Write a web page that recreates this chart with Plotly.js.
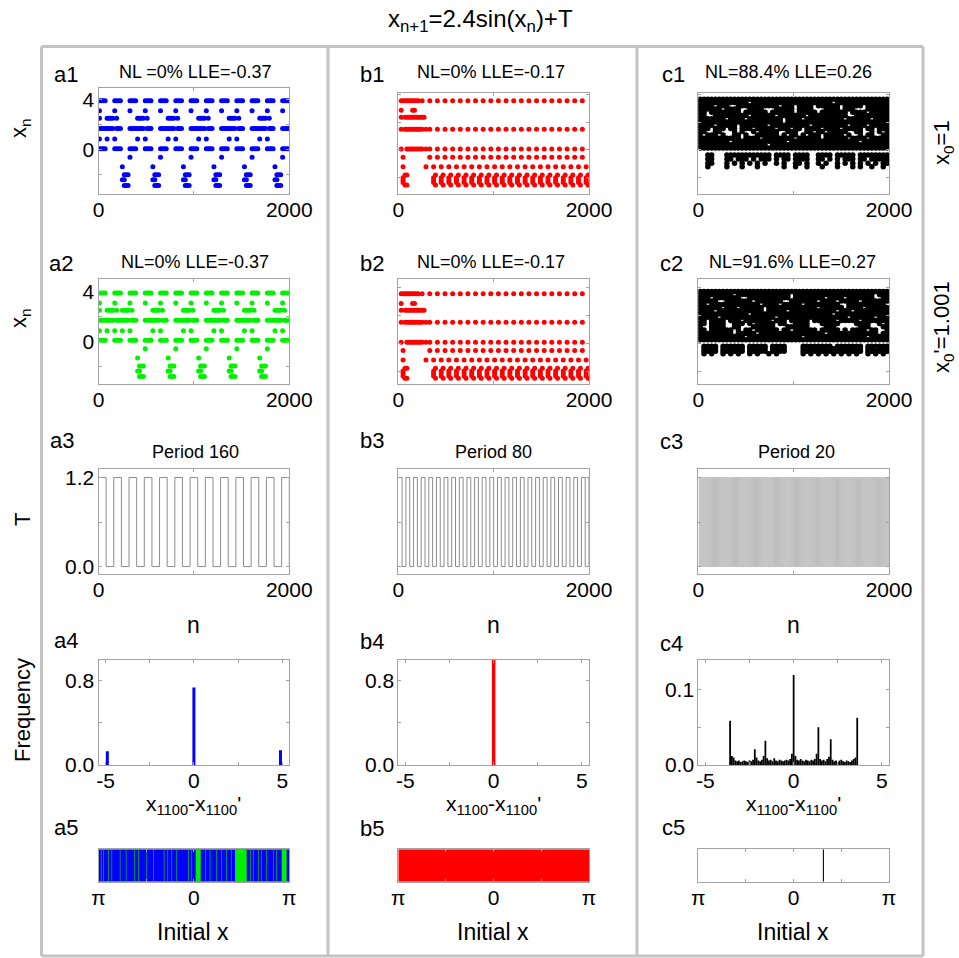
<!DOCTYPE html>
<html><head><meta charset="utf-8">
<script src="https://cdn.plot.ly/plotly-3.0.1.min.js"></script>
<style>html,body{margin:0;padding:0;background:#fff}#chart{width:959px;height:958px}</style>
</head><body><div id="chart"></div>
<script>
// ================= DATA =================
// Scatter panels are stored as occupancy maps: one string per level, one char per column of n.
// a1 / a2 : 100 columns of 20 n each
const a1Levels = [3.9, 3.1, 2.5, 1.7, 0.85, 0.08, -0.6, -1.35, -2.0, -2.4, -2.85];
const a1Rows = [
  "####....####...." + "####....####...." + "####....####...." + "####....####...." + "####....####...." + "####....####...." + "####",
  "#.......#......." + "#.......#......." + "#.......#......." + "#.......#......." + "#.......#......." + "#.......#......." + "#...",
  "#...####.#......" + "....####.#......" + "....####.#......" + "....####.#......" + "....####.#......" + "....####.#......" + "....",
  "########.###...." + "########.###...." + "########.###...." + "########.###...." + "########.###...." + "########.###...." + "####",
  "#...#...#......." + "....#...#......." + "....#...#......." + "....#...#......." + "....#...#......." + "....#...#......." + "....",
  "####....####...." + "####....####...." + "####....####...." + "####....####...." + "####....####...." + "####....####...." + "####",
  "................" + "#..............." + "#..............." + "#..............." + "#..............." + "#..............." + "#...",
  "............#..." + "............#..." + "............#..." + "............#..." + "............#..." + "............#..." + "....",
  ".............###" + ".............###" + ".............###" + ".............###" + ".............###" + ".............###" + "....",
  "............##.." + "............##.." + "............##.." + "............##.." + "............##.." + "............##.." + "....",
  ".............###" + ".............###" + ".............###" + ".............###" + ".............###" + ".............###" + "...."
];
const a2Levels = [3.9, 3.1, 2.5, 1.7, 0.85, 0.08, -0.6, -1.35, -2.0, -2.4, -2.85];
const a2Rows = [
  "####....####...." + "####....####...." + "####....####...." + "####....####...." + "####....####...." + "####....####...." + "####",
  "#.......#......." + "#.......#......." + "#.......#......." + "#.......#......." + "#.......#......." + "#.......#......." + "#...",
  "#...####.#..####" + ".#..........####" + ".#..........####" + ".#..........####" + ".#..........####" + ".#..........####" + ".#..",
  "########.#######" + ".###....########" + ".###....########" + ".###....########" + ".###....########" + ".###....########" + ".###",
  "#...#...#...#..." + "#...........#..." + "#...........#..." + "#...........#..." + "#...........#..." + "#...........#..." + "#...",
  "####....####...." + "####....####...." + "####....####...." + "####....####...." + "####....####...." + "####....####...." + "####",
  "................" + "........#......." + "........#......." + "........#......." + "........#......." + "........#......." + "....",
  "................" + "....#..........." + "....#..........." + "....#..........." + "....#..........." + "....#..........." + "....",
  "................" + ".....###........" + ".....###........" + ".....###........" + ".....###........" + ".....###........" + "....",
  "................" + "....##.........." + "....##.........." + "....##.........." + "....##.........." + "....##.........." + "....",
  "................" + ".....###........" + ".....###........" + ".....###........" + ".....###........" + ".....###........" + "...."
];
// b1 / b2 : 100 columns of 20 n each
const b1Levels = [3.55, 2.85, 2.35, 1.49, 0.07, -0.53, -1.2, -1.8, -2.0, -2.18, -2.35, -2.52];
const b1Rows = [
  ".##########.#..." + "#...#...#...#...#...#...#..." + "#...#...#...#...#...#...#..." + "#...#...#...#...#...#...#...",
  ".#.....##......." + "............................" + "............................" + "............................",
  ".#.###########.." + "............................" + "............................" + "............................",
  ".#.##########.#." + "#...#...#...#...#...#...#..." + "#...#...#...#...#...#...#..." + "#...#...#...#...#...#...#...",
  ".#..#########.#." + "#...#...#...#...#...#...#..." + "#...#...#...#...#...#...#..." + "#...#...#...#...#...#...#...",
  "..#............." + "#...#...#...#...#...#...#..." + "#...#...#...#...#...#...#..." + "#...#...#...#...#...#...#...",
  "..#...........#." + "..#...#...#...#...#...#...#." + "..#...#...#...#...#...#...#." + "..#...#...#...#...#...#...#.",
  "...##..........." + "...#...#...#...#...#...#...#" + "...#...#...#...#...#...#...#" + "...#...#...#...#...#...#...#",
  "..#............." + "..#...#...#...#...#...#...#." + "..#...#...#...#...#...#...#." + "..#...#...#...#...#...#...#.",
  "..#............." + "..#...#...#...#...#...#...#." + "..#...#...#...#...#...#...#." + "..#...#...#...#...#...#...#.",
  "..#............." + "..#...#...#...#...#...#...#." + "..#...#...#...#...#...#...#." + "..#...#...#...#...#...#...#.",
  "...##..........." + "...#...#...#...#...#...#...#" + "...#...#...#...#...#...#...#" + "...#...#...#...#...#...#...#"
];
const b2Levels = [3.55, 2.85, 2.35, 1.49, 0.07, -0.53, -1.2, -1.8, -2.0, -2.18, -2.35, -2.52];
const b2Rows = [
  ".##########.#..." + "#...#...#...#...#...#...#..." + "#...#...#...#...#...#...#..." + "#...#...#...#...#...#...#...",
  ".#.....##......." + "............................" + "............................" + "............................",
  ".#.###########.." + "............................" + "............................" + "............................",
  ".#.##########.#." + "#...#...#...#...#...#...#..." + "#...#...#...#...#...#...#..." + "#...#...#...#...#...#...#...",
  ".#..#########.#." + "#...#...#...#...#...#...#..." + "#...#...#...#...#...#...#..." + "#...#...#...#...#...#...#...",
  "..#............." + "#...#...#...#...#...#...#..." + "#...#...#...#...#...#...#..." + "#...#...#...#...#...#...#...",
  "..#...........#." + "..#...#...#...#...#...#...#." + "..#...#...#...#...#...#...#." + "..#...#...#...#...#...#...#.",
  "...##..........." + "...#...#...#...#...#...#...#" + "...#...#...#...#...#...#...#" + "...#...#...#...#...#...#...#",
  "..#............." + "..#...#...#...#...#...#...#." + "..#...#...#...#...#...#...#." + "..#...#...#...#...#...#...#.",
  "..#............." + "..#...#...#...#...#...#...#." + "..#...#...#...#...#...#...#." + "..#...#...#...#...#...#...#.",
  "..#............." + "..#...#...#...#...#...#...#." + "..#...#...#...#...#...#...#." + "..#...#...#...#...#...#...#.",
  "...##..........." + "...#...#...#...#...#...#...#" + "...#...#...#...#...#...#...#" + "...#...#...#...#...#...#...#"
];
// c1 / c2 : 50 columns of 40 n each
const c1Levels = [3.65, 3.42, 3.18, 2.95, 2.72, 2.48, 2.25, 2.02, 1.78, 1.55, 1.32, 1.08, 0.85, 0.62, 0.38, 0.15, -0.36, -0.65, -0.96, -1.2];
const c1Rows = [
  "##########" + "##########" + "##########" + "##########" + "##########",
  "##########" + "###.######" + "##########" + "#####.####" + "##########",
  "####.###.." + "##########" + "#.###.####" + ".######.##" + "###.######",
  "######.###" + "#..####..." + "#####.####" + "...####.##" + "#...######",
  "##.#######" + "#.######.#" + "#####.####" + "#.#######." + "####.#####",
  "##..######" + "###.######" + ".#######.#" + "#########." + ".#########",
  "#######.##" + "##.#######" + "##.####.##" + "########.#" + "#####.####",
  "##########" + "##########" + "##.#######" + "##########" + "##########",
  "####.#####" + ".#######.#" + "#########." + "#########." + "####.#####",
  "###.###.##" + ".###.#####" + ".###.##.##" + "##.####.##" + "###.##.###",
  "##..##...#" + ".#..#.####" + "#..###..##" + ".##.#####." + ".##..#.#.#",
  "#.###.#..#" + "#.#..#####" + "#.#.##.#.#" + "##.#####.#" + "..#.##..##",
  "##########" + "#.####.###" + "#####.####" + "##.######." + "####.#####",
  "########.#" + "##########" + "###.######" + "##########" + "##.#######",
  "##########" + "########.#" + "##########" + "##########" + "##########",
  "##########" + "##########" + "##########" + "##########" + "##########",
  "..##...###" + "#########." + "####.####." + ".####.####" + "#.########",
  "..##...##." + "###.#.###." + "#.##.####." + ".##.#.#.##" + "#.##.#####",
  "..##...#.#" + ".#.#.#.#.." + "#.#..##.#." + ".#.#..#.#." + "#.#.#.#.##",
  "..#....#.." + ".#...#...." + "..#..#..#." + "..#...#..." + "#.#..#..#."
];
const c2Levels = [3.71, 3.48, 3.25, 3.02, 2.78, 2.55, 2.32, 2.09, 1.86, 1.63, 1.40, 1.17, 0.94, 0.70, 0.47, 0.24, -0.22, -0.4, -0.58, -0.76];
const c2Rows = [
  "##########" + "##########" + "##########" + "##########" + "##########",
  "#########." + "##########" + "####.#####" + "##########" + "######.###",
  "###.######" + "#..#######" + "####.#####" + "###.####.#" + "######..##",
  "#####..###" + "####.#####" + "##..######" + "#.####.###" + "##.#######",
  "##.#######" + "######.###" + "#.#####.##" + "#######..#" + "#########.",
  "######.###" + ".######.##" + "##########" + "#.######.#" + "###.######",
  "####.#####" + "#######.##" + "###.######" + "######.###" + ".#########",
  "##########" + "###.######" + "##########" + "#####.####" + "##########",
  "#####.####" + "##########" + ".#########" + "#########." + "######.###",
  "##.####.##" + "#.#######." + "###.#####." + "######.###" + "##.#######",
  "##.####..#" + "##.#.#####" + ".##..####." + "..#####..." + ".####..#.#",
  "#..####..#" + "#...######" + "...######." + "...###...." + "..###...##",
  "##.######." + "#.##.#####" + "#.##.#####" + "#.#####.#." + "####.##..#",
  "#########." + "#####.####" + "##########" + "###.######" + "#######.##",
  "##########" + "##.#######" + "#######.##" + "##########" + "####.#####",
  "##########" + "##########" + "##########" + "##########" + "##########",
  ".####.####" + "##.#####.#" + "###....###" + "#####.####" + "###.######",
  ".#.##.#.##" + "##.##.##.#" + "#.#....#.#" + "####.#.###" + "#.#.##.###",
  ".####.####" + "##.#####.#" + "###....###" + "#####.####" + "###.######",
  ".#.#..#.#." + "#..#.#..#." + "#......#.#" + ".#.#.#.#.#" + ".#..#.#.#."
];

// Row 3: driving term T (step changes)
const a3N = [0,80,160,240,320,400,480,560,640,720,800,880,960,1040,1120,1200,1280,1360,1440,1520,1600,1680,1760,1840,1920,2000];
const a3T = [1.2,0,1.2,0,1.2,0,1.2,0,1.2,0,1.2,0,1.2,0,1.2,0,1.2,0,1.2,0,1.2,0,1.2,0,1.2,0];
const b3N = [0,40,80,120,160,200,240,280,320,360,400,440,480,520,560,600,640,680,720,760,800,840,880,920,960,
  1000,1040,1080,1120,1160,1200,1240,1280,1320,1360,1400,1440,1480,1520,1560,1600,1640,1680,1720,1760,1800,1840,1880,1920,1960,2000];
const b3T = [1.2,0,1.2,0,1.2,0,1.2,0,1.2,0,1.2,0,1.2,0,1.2,0,1.2,0,1.2,0,1.2,0,1.2,0,1.2,0,
  1.2,0,1.2,0,1.2,0,1.2,0,1.2,0,1.2,0,1.2,0,1.2,0,1.2,0,1.2,0,1.2,0,1.2,0,1.2];
const c3N = [0,10,20,30,40,50,60,70,80,90,100,110,120,130,140,150,160,170,180,190,
  200,210,220,230,240,250,260,270,280,290,300,310,320,330,340,350,360,370,380,390,
  400,410,420,430,440,450,460,470,480,490,500,510,520,530,540,550,560,570,580,590,
  600,610,620,630,640,650,660,670,680,690,700,710,720,730,740,750,760,770,780,790,
  800,810,820,830,840,850,860,870,880,890,900,910,920,930,940,950,960,970,980,990,
  1000,1010,1020,1030,1040,1050,1060,1070,1080,1090,1100,1110,1120,1130,1140,1150,1160,1170,1180,1190,
  1200,1210,1220,1230,1240,1250,1260,1270,1280,1290,1300,1310,1320,1330,1340,1350,1360,1370,1380,1390,
  1400,1410,1420,1430,1440,1450,1460,1470,1480,1490,1500,1510,1520,1530,1540,1550,1560,1570,1580,1590,
  1600,1610,1620,1630,1640,1650,1660,1670,1680,1690,1700,1710,1720,1730,1740,1750,1760,1770,1780,1790,
  1800,1810,1820,1830,1840,1850,1860,1870,1880,1890,1900,1910,1920,1930,1940,1950,1960,1970,1980,1990,2000];
const c3T = [1.2,0,1.2,0,1.2,0,1.2,0,1.2,0,1.2,0,1.2,0,1.2,0,1.2,0,1.2,0,
  1.2,0,1.2,0,1.2,0,1.2,0,1.2,0,1.2,0,1.2,0,1.2,0,1.2,0,1.2,0,
  1.2,0,1.2,0,1.2,0,1.2,0,1.2,0,1.2,0,1.2,0,1.2,0,1.2,0,1.2,0,
  1.2,0,1.2,0,1.2,0,1.2,0,1.2,0,1.2,0,1.2,0,1.2,0,1.2,0,1.2,0,
  1.2,0,1.2,0,1.2,0,1.2,0,1.2,0,1.2,0,1.2,0,1.2,0,1.2,0,1.2,0,
  1.2,0,1.2,0,1.2,0,1.2,0,1.2,0,1.2,0,1.2,0,1.2,0,1.2,0,1.2,0,
  1.2,0,1.2,0,1.2,0,1.2,0,1.2,0,1.2,0,1.2,0,1.2,0,1.2,0,1.2,0,
  1.2,0,1.2,0,1.2,0,1.2,0,1.2,0,1.2,0,1.2,0,1.2,0,1.2,0,1.2,0,
  1.2,0,1.2,0,1.2,0,1.2,0,1.2,0,1.2,0,1.2,0,1.2,0,1.2,0,1.2,0,
  1.2,0,1.2,0,1.2,0,1.2,0,1.2,0,1.2,0,1.2,0,1.2,0,1.2,0,1.2,0,1.2];

// Row 4: frequency of x1100 - x1100'
const a4Diff = [-4.9, 0, 4.9];
const a4Freq = [0.13, 0.73, 0.14];
const b4Diff = [0];
const b4Freq = [1.0];
const c4Diff = [-3.6,-3.5,-3.4,-3.3,-3.2,-3.1,-3.0,-2.9,-2.8,-2.7,-2.6,-2.5,-2.4,-2.3,-2.2,-2.1,-2.0,-1.9,-1.8,-1.7,-1.6,-1.5,-1.4,-1.3,-1.2,-1.1,-1.0,
  -0.9,-0.8,-0.7,-0.6,-0.5,-0.4,-0.3,-0.2,-0.1,0,0.1,0.2,0.3,0.4,0.5,0.6,0.7,0.8,0.9,1.0,1.1,1.2,1.3,1.4,1.5,1.6,1.7,1.8,1.9,2.0,
  2.1,2.2,2.3,2.4,2.5,2.6,2.7,2.8,2.9,3.0,3.1,3.2,3.3,3.4,3.5,3.6];
const c4Freq = [0.0585,0.012,0.010,0.006,0.005,0.006,0.004,0.005,0.006,0.005,0.004,0.006,0.005,0.007,0.021,0.010,0.006,0.005,0.007,0.012,0.032,0.009,0.006,0.007,0.005,0.009,0.006,
  0.005,0.007,0.006,0.005,0.006,0.007,0.006,0.008,0.015,0.119,0.012,0.007,0.006,0.008,0.006,0.005,0.007,0.006,0.005,0.007,0.006,0.008,0.015,0.050,0.008,0.006,0.007,0.005,0.008,0.011,
  0.034,0.007,0.005,0.006,0.004,0.006,0.007,0.005,0.004,0.006,0.005,0.004,0.006,0.008,0.010,0.0625];

// Row 5: initial-x maps — wide green intervals and thin green lines on blue
const a5GreenFrom = [0.06, 1.354, 2.89];
const a5GreenTo   = [0.225, 1.738, 3.053];
const a5GreenLines = [-3.054,-2.977,-2.813,-2.703,-2.429,-2.231,-1.957,-1.826,-1.552,-1.332,-0.981,-0.861,-0.729,-0.565,
  -0.181,-0.071,0.389,0.532,0.751,0.916,1.080,1.244,1.869,1.957,2.122,2.231,2.396,2.615,2.725];
const c5BlackAt = [0.98];

// ================= DRAWING =================
const W = 959, H = 958;
const FONT = 'Liberation Sans, Arial, Helvetica, sans-serif';
const PI = Math.PI;

function mapPoints(levels, rows, stepN) {
  const x = [], y = [];
  rows.forEach((row, r) => {
    for (let i = 0; i < row.length; i++) {
      if (row[i] === '#') { x.push(stepN * (i + 0.5)); y.push(levels[r]); }
    }
  });
  return {x, y};
}

// panel boxes in pixels: [left, right, top, bottom]
const colX = {a: [98.5, 289.3], b: [398.3, 589], c: [698.3, 889]};
const box = {
  a1: [...colX.a, 88, 194],    b1: [...colX.b, 93, 194],    c1: [...colX.c, 93, 194],
  a2: [...colX.a, 278.5, 384], b2: [...colX.b, 279, 384],   c2: [...colX.c, 279, 384],
  a3: [...colX.a, 469.3, 574], b3: [...colX.b, 469.3, 574], c3: [...colX.c, 469.3, 574],
  a4: [...colX.a, 660, 765],   b4: [...colX.b, 660, 765],   c4: [...colX.c, 660, 765],
  a5: [...colX.a, 849.3, 881.7], b5: [...colX.b, 849.3, 881.7], c5: [...colX.c, 849.3, 881.7]
};
const order = ['a1','b1','c1','a2','b2','c2','a3','b3','c3','a4','b4','c4','a5','b5','c5'];

// v: labelled ticks, t: their labels (null = no labels), m: unlabelled minor ticks
const nTicks = {v: [0, 2000], t: ['0', '2000'], m: [1000]};
const dTicks = {v: [-5, 0, 5], t: ['-5', '0', '5'], m: [-2.5, 2.5]};
const piTicks = {v: [-PI, 0, PI], t: ['π', '0', 'π'], m: [-PI/2, PI/2]};
const xnLab = {v: [0, 4], t: ['0', '4'], m: [-2, 2]};
const xnNo = {v: [-2, 0, 2, 4], t: null, m: []};
const cfg = {
  a1: {xr: [0, 2000], yr: [-3.53, 4.92], xt: nTicks, yt: xnLab},
  b1: {xr: [0, 2000], yr: [-3.17, 4.1], xt: nTicks, yt: xnNo},
  c1: {xr: [0, 2000], yr: [-3.17, 4.1], xt: nTicks, yt: xnNo},
  a2: {xr: [0, 2000], yr: [-3.45, 5.07], xt: nTicks, yt: xnLab},
  b2: {xr: [0, 2000], yr: [-2.93, 4.6], xt: nTicks, yt: xnNo},
  c2: {xr: [0, 2000], yr: [-2.93, 4.6], xt: nTicks, yt: xnNo},
  a3: {xr: [0, 2000], yr: [-0.1, 1.31], xt: nTicks, yt: {v: [0, 1.2], t: ['0.0', '1.2'], m: [0.6]}},
  b3: {xr: [0, 2000], yr: [-0.1, 1.31], xt: nTicks, yt: {v: [0, 0.6, 1.2], t: null, m: []}},
  c3: {xr: [0, 2000], yr: [-0.1, 1.31], xt: nTicks, yt: {v: [0, 0.6, 1.2], t: null, m: []}},
  a4: {xr: [-5.4, 5.4], yr: [0, 0.99], xt: dTicks, yt: {v: [0, 0.8], t: ['0.0', '0.8'], m: [0.4]}},
  b4: {xr: [-5.4, 5.4], yr: [0, 0.99], xt: dTicks, yt: {v: [0, 0.8], t: ['0.0', '0.8'], m: [0.4]}},
  c4: {xr: [-5.4, 5.4], yr: [0, 0.139], xt: dTicks, yt: {v: [0, 0.1], t: ['0.0', '0.1'], m: [0.05]}},
  a5: {xr: [-PI, PI], yr: [0, 1], xt: piTicks, yt: {v: [], t: null, m: []}},
  b5: {xr: [-PI, PI], yr: [0, 1], xt: piTicks, yt: {v: [], t: null, m: []}},
  c5: {xr: [-PI, PI], yr: [0, 1], xt: piTicks, yt: {v: [], t: null, m: []}}
};

const layout = {
  width: W, height: H, margin: {l: 0, r: 0, t: 0, b: 0},
  paper_bgcolor: '#ffffff', plot_bgcolor: '#ffffff', showlegend: false,
  barmode: 'overlay', font: {family: FONT, color: '#000'},
  annotations: [], shapes: []
};
const axisId = {};
const AX = '#a3a3a3';
function makeAxis(dom, range, anchor, tk, noTicks, standoff) {
  const a = {
    domain: dom, range: range, anchor: anchor,
    showline: true, mirror: 'ticks', linecolor: AX, linewidth: 1,
    ticks: noTicks ? '' : 'inside', ticklen: 3, tickwidth: 1, tickcolor: AX,
    showgrid: false, zeroline: false, fixedrange: true,
    tickmode: 'array', tickvals: tk.v,
    tickfont: {family: FONT, size: 21, color: '#000'},
    ticklabelstandoff: standoff
  };
  if (tk.t) { a.ticktext = tk.t; a.showticklabels = true; } else { a.showticklabels = false; }
  if (tk.m.length) {
    a.minor = {tickmode: 'array', tickvals: tk.m, ticks: 'inside', ticklen: 3, tickwidth: 1, tickcolor: AX, showgrid: false};
  }
  return a;
}
order.forEach((p, i) => {
  const k = i + 1, s = k === 1 ? '' : String(k);
  axisId[p] = {x: 'x' + s, y: 'y' + s};
  const b = box[p], c = cfg[p];
  layout['xaxis' + s] = makeAxis([b[0] / W, b[1] / W], c.xr, 'y' + s, c.xt, false, -3);
  layout['yaxis' + s] = makeAxis([1 - b[3] / H, 1 - b[2] / H], c.yr, 'x' + s, c.yt, p[1] === '5', -1);
});

const traces = [];
function scat(p, pts, color, size) {
  traces.push({type: 'scatter', mode: 'markers', x: pts.x, y: pts.y, xaxis: axisId[p].x, yaxis: axisId[p].y,
    marker: {color: color, size: size, line: {width: 0}}, hoverinfo: 'skip', cliponaxis: true});
}
scat('a1', mapPoints(a1Levels, a1Rows, 20), '#0000ff', 5);
scat('b1', mapPoints(b1Levels, b1Rows, 20), '#ff0000', 5);
scat('c1', mapPoints(c1Levels, c1Rows, 40), '#000000', 5.5);
scat('a2', mapPoints(a2Levels, a2Rows, 20), '#00f000', 5);
scat('b2', mapPoints(b2Levels, b2Rows, 20), '#ff0000', 5);
scat('c2', mapPoints(c2Levels, c2Rows, 40), '#000000', 5.5);

function stepLine(p, xs, ys, color, width) {
  traces.push({type: 'scatter', mode: 'lines', x: xs, y: ys, xaxis: axisId[p].x, yaxis: axisId[p].y,
    line: {color: color, width: width, shape: 'hv'}, hoverinfo: 'skip'});
}
stepLine('a3', a3N, a3T, '#8c8c8c', 1);
stepLine('b3', b3N, b3T, '#8c8c8c', 1);
stepLine('c3', c3N, c3T, '#8a8a8a', 0.55);

function bars(p, xs, ys, width, color) {
  traces.push({type: 'bar', x: xs, y: ys, width: width, xaxis: axisId[p].x, yaxis: axisId[p].y,
    marker: {color: color, line: {width: 0}}, hoverinfo: 'skip'});
}
bars('a4', a4Diff, a4Freq, 0.17, '#0000ff');
bars('b4', b4Diff, b4Freq, 0.2, '#ff0000');
bars('c4', c4Diff, c4Freq, 0.1, '#000000');

// row 5: full-width base band plus interval stripes
bars('a5', [0], [1], 2 * PI, '#0000ff');
bars('a5', a5GreenLines, a5GreenLines.map(() => 1), 0.022, '#00d000');
bars('a5', a5GreenFrom.map((s, i) => (s + a5GreenTo[i]) / 2), a5GreenFrom.map(() => 1),
     a5GreenFrom.map((s, i) => a5GreenTo[i] - s), '#00f000');
bars('b5', [0], [1], 2 * PI, '#ff0000');
bars('c5', c5BlackAt, c5BlackAt.map(() => 1), 0.035, '#000000');

// ---------- text ----------
function ann(text, px, py, size, extra) {
  layout.annotations.push(Object.assign({
    text: text, x: px / W, y: 1 - py / H, xref: 'paper', yref: 'paper', showarrow: false,
    xanchor: 'center', yanchor: 'middle', font: {family: FONT, size: size, color: '#000'}
  }, extra || {}));
}
ann('x<sub>n+1</sub>=2.4sin(x<sub>n</sub>)+T', 480, 20, 24);
const letters = {a1: [66, 74], b1: [372, 74], c1: [673, 74], a2: [61, 263], b2: [372, 263], c2: [671, 263],
  a3: [62, 440], b3: [372, 440], c3: [671, 441], a4: [66, 640], b4: [372, 641], c4: [671, 643],
  a5: [66, 827], b5: [372, 828], c5: [673, 827]};
Object.keys(letters).forEach(k => ann(k, letters[k][0], letters[k][1], 22));
ann('NL =0% LLE=-0.37', 195, 72, 18);
ann('NL=0% LLE=-0.17', 491, 72, 18);
ann('NL=88.4% LLE=0.26', 788, 72, 18);
ann('NL=0% LLE=-0.37', 195, 262, 18);
ann('NL=0% LLE=-0.17', 491, 262, 18);
ann('NL=91.6% LLE=0.27', 792, 262, 18);
ann('Period 160', 195, 452, 18);
ann('Period 80', 493, 452, 18);
ann('Period 20', 796, 452, 18);
[193, 493, 793].forEach(x => {
  ann('n', x, 625, 23);
  ann("x<sub>1100</sub>-x<sub>1100</sub>'", x, 805, 21);
  ann('Initial x', x, 932, 23);
});
ann('x<sub>n</sub>', 20, 128, 22, {textangle: -90});
ann('x<sub>n</sub>', 20, 318, 22, {textangle: -90});
ann('T', 22, 520, 22, {textangle: -90});
ann('Frequency', 22, 710, 22, {textangle: -90});
ann('x<sub>0</sub>=1', 943, 143, 22, {textangle: -90});
ann("x<sub>0</sub>'=1.001", 943, 327, 22, {textangle: -90});

// ---------- frames ----------
function pline(x0, y0, x1, y1) {
  layout.shapes.push({type: 'line', xref: 'paper', yref: 'paper', x0: x0 / W, x1: x1 / W, y0: 1 - y0 / H, y1: 1 - y1 / H,
    line: {color: '#c3c3c3', width: 3}});
}
pline(41.5, 46.5, 923, 46.5);
pline(41.5, 956, 923, 956);
[41.5, 328, 637, 923].forEach(x => pline(x, 46.5, x, 956));

Plotly.newPlot('chart', traces, layout, {staticPlot: true, displayModeBar: false});
</script>
</body></html>
